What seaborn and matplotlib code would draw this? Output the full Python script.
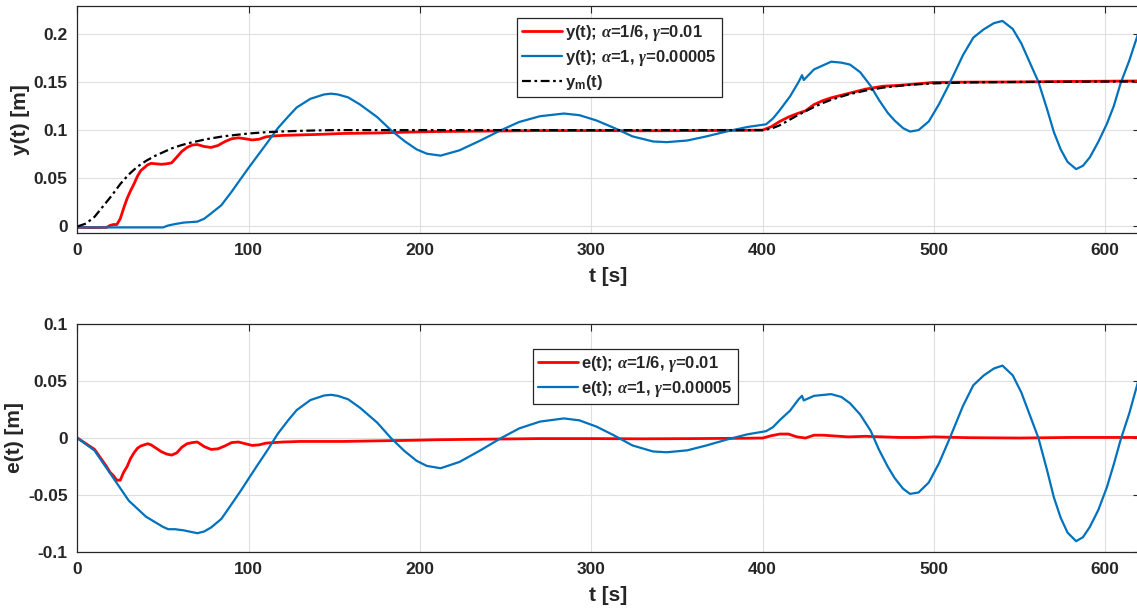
import matplotlib
matplotlib.use("Agg")
import matplotlib.pyplot as plt
import pandas as pd
import seaborn as sns

# reference trajectory y_m(t)
t_ym = [0, 5, 10, 15, 20, 25, 30, 35, 40, 45, 50, 55, 60, 65, 70, 75, 80, 85, 90, 95,
        100, 110, 120, 130, 140, 150, 400, 405, 410, 415, 420, 425, 430, 435, 440, 450,
        460, 470, 480, 490, 500, 520, 550, 620]
ym = [0, 0.003, 0.010, 0.021, 0.032, 0.044, 0.054, 0.062, 0.068, 0.073, 0.077, 0.081,
      0.084, 0.0865, 0.0885, 0.0905, 0.092, 0.0935, 0.0945, 0.0955, 0.0965, 0.0978,
      0.0986, 0.0992, 0.0997, 0.1, 0.1, 0.1015, 0.105, 0.110, 0.115, 0.1195, 0.124,
      0.128, 0.1315, 0.137, 0.141, 0.144, 0.146, 0.1475, 0.1485, 0.1495, 0.15, 0.1505]

# alpha=1/6, gamma=0.01
t_red = [0, 10, 17, 19, 21, 23, 25, 27, 29, 31, 33, 35, 37, 39, 41, 43, 46, 49, 52, 55,
         58, 61, 64, 67, 70, 74, 78, 82, 86, 90, 94, 98, 102, 106, 110, 115, 120, 130,
         140, 155, 175, 195, 210, 240, 270, 300, 330, 360, 390, 400, 405, 410, 415, 420,
         425, 430, 435, 440, 450, 460, 470, 480, 490, 500, 520, 550, 580, 620]
y_red = [-0.001, -0.0012, -0.001, 0.001, 0.002, 0.002, 0.008, 0.019, 0.029, 0.037, 0.044,
         0.052, 0.058, 0.061, 0.064, 0.0655, 0.065, 0.0645, 0.065, 0.066, 0.072, 0.078,
         0.082, 0.0845, 0.085, 0.083, 0.082, 0.084, 0.088, 0.091, 0.092, 0.091, 0.0898,
         0.0905, 0.093, 0.094, 0.0945, 0.095, 0.0955, 0.0965, 0.097, 0.098, 0.0985, 0.099,
         0.0995, 0.0995, 0.0993, 0.0995, 0.0998, 0.1, 0.1035, 0.109, 0.1135, 0.117, 0.12,
         0.1265, 0.1305, 0.1335, 0.138, 0.1425, 0.1455, 0.1465, 0.148, 0.1495, 0.1498,
         0.15, 0.1505, 0.151]
e_red = [0, -0.010, -0.025, -0.030, -0.033, -0.037, -0.037, -0.030, -0.025, -0.018,
         -0.013, -0.009, -0.007, -0.006, -0.005, -0.006, -0.009, -0.012, -0.014, -0.015,
         -0.013, -0.008, -0.005, -0.004, -0.0035, -0.0075, -0.010, -0.0095, -0.007, -0.004,
         -0.0035, -0.005, -0.0065, -0.006, -0.0045, -0.004, -0.0035, -0.003, -0.003, -0.003,
         -0.0025, -0.002, -0.0015, -0.001, -0.0005, -0.0005, -0.0007, -0.0005, -0.0002, 0,
         0.002, 0.0035, 0.0035, 0.001, 0.0, 0.0025, 0.0025, 0.002, 0.001, 0.0015, 0.001,
         0.0005, 0.0005, 0.001, 0.0003, 0.0, 0.0005, 0.0005]

# alpha=1, gamma=0.00005
t_blue = [0, 10, 20, 30, 40, 50, 53, 57, 62, 70, 74, 78, 84, 90, 95, 100, 105, 111, 117,
          123, 128, 136, 144, 148, 152, 158, 165, 175, 183, 191, 198, 204, 212, 223, 235,
          247, 258, 270, 284, 293, 303, 313, 324, 336, 344, 356, 367, 379, 391, 400, 402,
          406, 410, 416, 421, 423, 424, 430, 440, 446, 451, 457, 463, 468, 473, 477, 482,
          486, 491, 497, 503, 509, 517, 523, 529, 535, 540, 546, 551, 556, 561, 566, 570,
          574, 578, 583, 587, 591, 596, 601, 605, 609, 614, 619, 620]
y_blue = [-0.001, -0.001, -0.001, -0.001, -0.001, -0.001, 0.001, 0.0025, 0.004, 0.005,
          0.008, 0.0135, 0.022, 0.036, 0.0486, 0.061, 0.073, 0.0874, 0.102, 0.114, 0.1235,
          0.1325, 0.137, 0.1378, 0.137, 0.134, 0.1265, 0.1135, 0.100, 0.0885, 0.080, 0.0755,
          0.0735, 0.079, 0.089, 0.0997, 0.1085, 0.1144, 0.1172, 0.1155, 0.110, 0.1025,
          0.0935, 0.0882, 0.0875, 0.0892, 0.0934, 0.0986, 0.1032, 0.1055, 0.106, 0.112,
          0.1207, 0.135, 0.150, 0.157, 0.152, 0.163, 0.171, 0.170, 0.168, 0.160, 0.146,
          0.131, 0.118, 0.110, 0.102, 0.0985, 0.100, 0.109, 0.127, 0.148, 0.178, 0.196,
          0.2045, 0.211, 0.2133, 0.205, 0.190, 0.170, 0.150, 0.122, 0.098, 0.080, 0.067,
          0.0595, 0.063, 0.0717, 0.088, 0.1067, 0.125, 0.1487, 0.172, 0.199, 0.201]
e_blue = [0, -0.011, -0.033, -0.055, -0.069, -0.078, -0.080, -0.080, -0.081, -0.0835,
          -0.082, -0.0785, -0.071, -0.058, -0.047, -0.0355, -0.024, -0.0105, 0.0038, 0.0155,
          0.0245, 0.0333, 0.0373, 0.0379, 0.037, 0.034, 0.0265, 0.0135, 0.0, -0.0115, -0.020,
          -0.0245, -0.0265, -0.021, -0.011, -0.0003, 0.0085, 0.0144, 0.0172, 0.0155, 0.010,
          0.0025, -0.0065, -0.0118, -0.0125, -0.0108, -0.0066, -0.0014, 0.0032, 0.0055,
          0.006, 0.0095, 0.0157, 0.024, 0.034, 0.037, 0.033, 0.037, 0.0385, 0.036, 0.0305,
          0.0205, 0.0065, -0.0105, -0.025, -0.035, -0.0445, -0.049, -0.0478, -0.039, -0.022,
          -0.001, 0.0283, 0.0463, 0.0548, 0.061, 0.0635, 0.055, 0.040, 0.020, 0.0, -0.028,
          -0.052, -0.070, -0.083, -0.0905, -0.087, -0.078, -0.063, -0.043, -0.023, -0.0015,
          0.0215, 0.0485, 0.0505]

sns.set_theme(style="whitegrid")
plt.rcParams['font.family'] = ['Liberation Sans', 'DejaVu Sans']
plt.rcParams['font.weight'] = 'bold'
plt.rcParams['mathtext.fontset'] = 'custom'
plt.rcParams['mathtext.rm'] = 'Liberation Sans:bold'
plt.rcParams['mathtext.bf'] = 'Liberation Sans:bold'
plt.rcParams['mathtext.it'] = 'Liberation Serif:italic'

RED = '#FF0000'
BLUE = '#0072BD'
DARK = '#262626'

fig = plt.figure(figsize=(11.37, 6.13), dpi=100)
ax1 = fig.add_axes([0.0681, 0.6199, 0.9341, 0.3703])
ax2 = fig.add_axes([0.0681, 0.0995, 0.9341, 0.3719])

red_df = pd.DataFrame({'t': t_red, 'y': y_red, 'e': e_red})
blue_df = pd.DataFrame({'t': t_blue, 'y': y_blue, 'e': e_blue})
ym_df = pd.DataFrame({'t': t_ym, 'ym': ym})

sns.lineplot(data=red_df, x='t', y='y', ax=ax1, color=RED, lw=2, sort=False,
             estimator=None, label=r'y(t); $\it{\alpha}$=1/6, $\it{\gamma}$=0.01')
sns.lineplot(data=blue_df, x='t', y='y', ax=ax1, color=BLUE, lw=1.6, sort=False,
             estimator=None, label=r'y(t); $\it{\alpha}$=1, $\it{\gamma}$=0.00005')
sns.lineplot(data=ym_df, x='t', y='ym', ax=ax1, color='black', lw=1.6,
             dashes=False, sort=False, estimator=None, label=r'y$_{\mathrm{m}}$(t)')
ax1.lines[-1].set_dashes([4, 1.6, 1.2, 1.6])

sns.lineplot(data=red_df, x='t', y='e', ax=ax2, color=RED, lw=2, sort=False,
             estimator=None, label=r'e(t); $\it{\alpha}$=1/6, $\it{\gamma}$=0.01')
sns.lineplot(data=blue_df, x='t', y='e', ax=ax2, color=BLUE, lw=1.6, sort=False,
             estimator=None, label=r'e(t); $\it{\alpha}$=1, $\it{\gamma}$=0.00005')

ax1.set_ylim(-0.0068, 0.2288)
ax1.set_yticks([0, 0.05, 0.1, 0.15, 0.2])
ax1.set_yticklabels(['0', '0.05', '0.1', '0.15', '0.2'])
ax1.set_ylabel('y(t) [m]', fontsize=15, fontweight='bold', color=DARK, labelpad=3)

ax2.set_ylim(-0.1, 0.1)
ax2.set_yticks([-0.1, -0.05, 0, 0.05, 0.1])
ax2.set_yticklabels(['-0.1', '-0.05', '0', '0.05', '0.1'])
ax2.set_ylabel('e(t) [m]', fontsize=15, fontweight='bold', color=DARK, labelpad=3)

for ax in (ax1, ax2):
    ax.set_xlim(0, 620)
    ax.set_xticks([0, 100, 200, 300, 400, 500, 600])
    ax.set_xlabel('t [s]', fontsize=15, fontweight='bold', color=DARK, labelpad=7)
    ax.set_facecolor('white')
    ax.grid(True, color='#DFDFDF', lw=0.8)
    ax.tick_params(direction='in', length=5, width=0.8, colors=DARK, labelsize=12.5,
                   top=True, right=True, pad=7)
    for lab in ax.get_xticklabels() + ax.get_yticklabels():
        lab.set_fontweight('bold')
    for sp in ax.spines.values():
        sp.set_color(DARK)
        sp.set_linewidth(0.9)

leg1 = ax1.legend(loc='upper left', bbox_to_anchor=(0.414, 0.947), fontsize=12,
                  handlelength=2.4, handletextpad=0.2, borderpad=0.3, labelspacing=0.3,
                  fancybox=False, framealpha=1, edgecolor=DARK, borderaxespad=0)
leg2 = ax2.legend(loc='upper left', bbox_to_anchor=(0.429, 0.890), fontsize=12,
                  handlelength=2.4, handletextpad=0.2, borderpad=0.3, labelspacing=0.3,
                  fancybox=False, framealpha=1, edgecolor=DARK, borderaxespad=0)
for leg in (leg1, leg2):
    leg.get_frame().set_linewidth(0.9)
    for txt in leg.get_texts():
        txt.set_fontweight('bold')

fig.savefig('out.png', dpi=100)
